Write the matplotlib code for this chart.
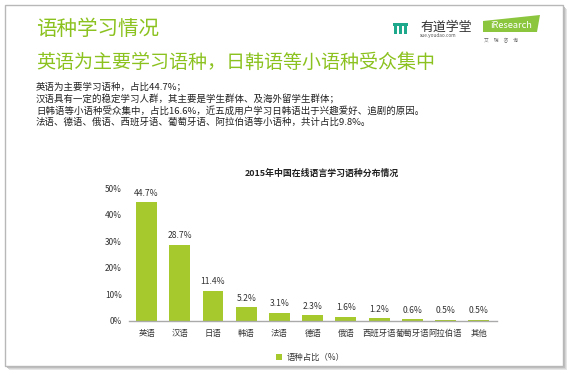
import matplotlib
matplotlib.use("Agg")
import matplotlib.pyplot as plt
from matplotlib.patches import Rectangle, Polygon

plt.rcParams['font.family'] = ['Noto Sans CJK SC', 'DejaVu Sans']

# data
languages = ["英语", "汉语", "日语", "韩语", "法语", "德语", "俄语", "西班牙语", "葡萄牙语", "阿拉伯语", "其他"]
shares = [44.7, 28.7, 11.4, 5.2, 3.1, 2.3, 1.6, 1.2, 0.6, 0.5, 0.5]
yticks = [0, 10, 20, 30, 40, 50]

title = "语种学习情况"
subtitle = "英语为主要学习语种，日韩语等小语种受众集中"
body_lines = [
    "英语为主要学习语种，占比44.7%；",
    "汉语具有一定的稳定学习人群，其主要是学生群体、及海外留学生群体；",
    "日韩语等小语种受众集中，占比16.6%，近五成用户学习日韩语出于兴趣爱好、追剧的原因。",
    "法语、德语、俄语、西班牙语、葡萄牙语、阿拉伯语等小语种，共计占比9.8%。",
]
chart_title = "2015年中国在线语言学习语种分布情况"
legend_label = "语种占比（%）"

W, H = 575, 373
GREEN = "#8cc220"
BAR = "#a6c92e"

fig = plt.figure(figsize=(W / 100, H / 100), dpi=100)
fig.patch.set_facecolor("white")

def fx(px):
    return px / W

def fy(py):
    return 1 - py / H

def box(x0, y0, w, h, **kw):
    # rectangle in pixel units, (x0, y0) = top-left
    fig.patches.append(Rectangle((fx(x0), fy(y0 + h)), w / W, h / H,
                                 transform=fig.transFigure, **kw))

# page frame with shadow
for off, col in [(4, "#e6e6e6"), (3, "#d4d4d4"), (2, "#bfbfbf"), (1, "#a8a8a8")]:
    box(5 + off, 5 + off, 558, 361, facecolor=col, edgecolor="none", zorder=0)
box(5, 5, 558, 361, facecolor="white", edgecolor="#b8b8b8", linewidth=1, zorder=1)

# header texts
fig.text(fx(36), fy(29), title, fontsize=14.8, color=GREEN, va="center", ha="left", zorder=3)
fig.text(fx(36), fy(62), subtitle, fontsize=13.7, color=GREEN, va="center", ha="left", zorder=3)
for i, line in enumerate(body_lines):
    fig.text(fx(36), fy(87 + 11.8 * i), line, fontsize=6.8, color="#222222",
             va="center", ha="left", zorder=3)

# youdao logo
teal = "#1ea98c"
box(393, 23, 15, 2.5, facecolor=teal, edgecolor="none", zorder=2)
for xb in [394, 399, 404]:
    box(xb, 26, 3, 7.5, facecolor=teal, edgecolor="none", zorder=2)
fig.text(fx(420), fy(27), "有道学堂", fontsize=9.3, color="#333333", va="center", ha="left", zorder=3)
fig.text(fx(420), fy(36), "xue.youdao.com", fontsize=3.4, color="#555555", va="center", ha="left", zorder=3)

# iresearch logo
fig.patches.append(Polygon([(fx(483), fy(32)), (fx(537), fy(32)), (fx(540), fy(15)), (fx(483), fy(21))],
                           closed=True, transform=fig.transFigure, facecolor="#8cc63f",
                           edgecolor="none", zorder=2))
fig.text(fx(511), fy(25), "iResearch", fontsize=6.6, color="white", va="center", ha="center", zorder=3)
fig.text(fx(484), fy(41), "艾     瑞     咨     询", fontsize=3.4, color="#666666", va="center", ha="left", zorder=3)

# chart
ax = fig.add_axes([fx(129), fy(321), fx(497 - 129), (321 - 188) / H])
ax.set_zorder(5)
ax.patch.set_alpha(0)
x = range(len(languages))
ax.bar(x, shares, width=0.63, color=BAR, edgecolor="none")
for xi, v in zip(x, shares):
    ax.text(xi, v + 1.6, "%.1f%%" % v, ha="center", va="bottom", fontsize=6.2, color="#333333")

ax.set_xlim(-0.53, 10.55)
ax.set_ylim(0, 50)
ax.set_yticks(yticks)
ax.set_yticklabels(["%d%%" % t for t in yticks])
ax.set_xticks(list(x))
ax.set_xticklabels(languages)
ax.tick_params(axis="both", length=0, labelsize=6.0, colors="#333333")
ax.tick_params(axis="x", pad=6)
ax.tick_params(axis="y", pad=5)
for s in ["top", "right", "left"]:
    ax.spines[s].set_visible(False)
ax.spines["bottom"].set_color("#aaaaaa")
ax.spines["bottom"].set_linewidth(1)

fig.text(fx(322), fy(173), chart_title, fontsize=6.4, fontweight="bold", color="#222222",
         ha="center", va="center", zorder=3)

# legend
box(276, 354, 6, 6, facecolor=BAR, edgecolor="none", zorder=2)
fig.text(fx(287), fy(357), legend_label, fontsize=6.0, color="#333333", ha="left", va="center", zorder=3)

fig.savefig("out.png", dpi=100)
